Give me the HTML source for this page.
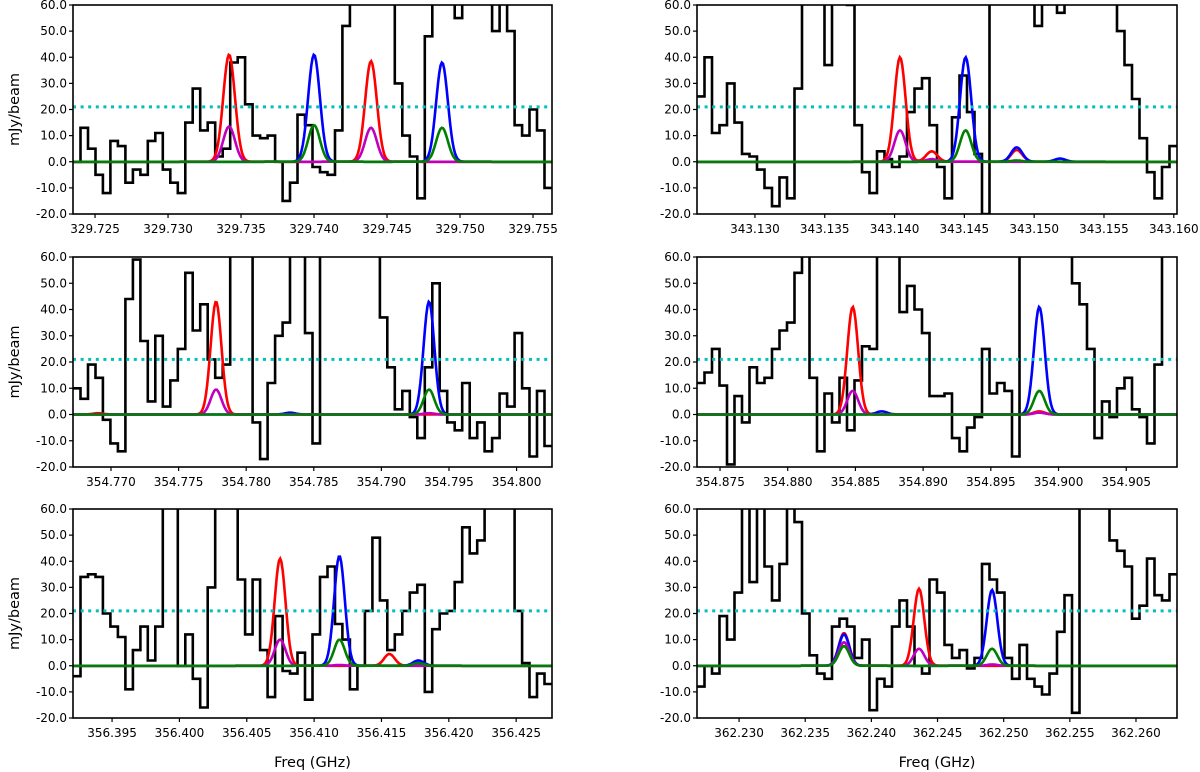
<!DOCTYPE html>
<html><head><meta charset="utf-8"><style>
html,body{margin:0;padding:0;background:#fff;}
svg{display:block;font-family:"DejaVu Sans","Liberation Sans",sans-serif;}
</style></head><body>
<svg id="fig" width="1200" height="772" viewBox="0 0 1200 772"></svg>
<script>
// ---- data ----
const panelNames = ['p1','p2','p3','p4','p5','p6'];
const freqMin = [329.72349, 343.12585, 354.76719, 354.87330, 356.39210, 362.22682];
const freqMax = [329.75630, 343.16023, 354.80262, 354.90875, 356.42766, 362.26310];
const xTicks = [
 [329.725,329.730,329.735,329.740,329.745,329.750,329.755],
 [343.130,343.135,343.140,343.145,343.150,343.155,343.160],
 [354.770,354.775,354.780,354.785,354.790,354.795,354.800],
 [354.875,354.880,354.885,354.890,354.895,354.900,354.905],
 [356.395,356.400,356.405,356.410,356.415,356.420,356.425],
 [362.230,362.235,362.240,362.245,362.250,362.255,362.260]
];
const yTicks = [-20,-10,0,10,20,30,40,50,60];
const threshold = 21;
const sigmaGHz = 0.0004;
const flux1 = [0,13,5,-5,-12,8,6,-8,-3,-5,8,11,-3,-8,-12,15,28,12,15,2,5,38,40,22,10,9,10,0,-15,-8,18,14,-2,-4,-5,12,52,70,70,70,70,70,70,30,10,2,-14,48,70,70,70,55,70,70,70,70,50,70,50,14,10,20,12,-10];
const flux2 = [25,40,11,14,30,15,3,2,-3,-10,-17,-6,-14,28,70,70,70,37,70,70,60,14,-4,-12,4,1,-2,2,19,28,32,14,-2,-14,17,33,19,3,-20,70,70,70,70,70,70,52,70,70,57,70,70,70,70,70,70,70,50,37,24,9,-4,-14,-2,6];
const flux3 = [10,6,19,14,-2,-11,-14,44,59,28,5,30,3,13,25,54,32,42,21,14,19,70,70,70,-3,-17,12,30,35,70,70,31,-11,70,70,70,70,70,70,70,70,37,18,2,9,-1,-9,18,50,9,-3,-6,12,-9,-3,-14,-9,8,3,31,10,-16,9,-12];
const flux4 = [12,16,25,11,-19,7,-3,18,12,14,25,32,35,54,70,14,-14,8,-3,14,-6,13,26,25,70,70,70,39,49,40,31,7,7,8,-9,-14,-5,-1,25,8,12,9,-16,70,70,70,70,70,70,70,50,42,25,-9,5,-1,10,14,2,-1,-11,19,70,70];
const flux5 = [-4,34,35,34,20,15,11,-9,6,15,2,15,70,70,0,12,-5,-16,30,70,70,70,33,12,33,6,-12,19,-2,-3,5,-13,12,34,38,16,10,-9,0,21,49,25,6,12,21,28,31,-10,14,20,21,32,53,43,48,70,70,70,70,21,1,-12,-3,-7];
const flux6 = [-8,0,-3,19,10,28,70,32,70,38,25,39,70,55,20,4,-3,-5,15,18,15,3,10,-17,-5,-8,15,25,15,0,-3,33,28,8,3,6,-1,3,39,33,28,3,-5,8,-5,-8,-11,-3,13,27,-18,70,70,70,70,48,44,38,18,23,41,27,25,35];
const fluxes = [flux1,flux2,flux3,flux4,flux5,flux6];
// line components: [panel, freq, amp] for each colour
const redLines = [[0,329.73418,41],[0,329.74390,38.5],[1,343.14039,40],[1,343.14266,4],[1,343.14875,4.5],[2,354.77777,43],[2,354.76904,0.5],[3,354.88480,41],[3,354.89858,1.2],[4,356.40747,41],[4,356.41559,4.5],[5,362.23793,12.5],[5,362.24360,29.5]];
const blueLines = [[0,329.74000,41],[0,329.74877,38],[1,343.14509,40],[1,343.14875,5.5],[1,343.15185,1.2],[2,354.78324,0.7],[2,354.79352,43],[3,354.88694,1.2],[3,354.89858,41],[4,356.41188,42],[4,356.41774,2],[5,362.23793,12],[5,362.24912,29]];
const magentaLines = [[0,329.73418,13.5],[0,329.74390,13],[1,343.14039,12],[1,343.14266,1],[2,354.77777,9.5],[2,354.79352,0.5],[3,354.88480,9],[3,354.89858,0.7],[4,356.40747,10],[4,356.41188,0.3],[5,362.23793,9],[5,362.24360,6.5],[5,362.24912,0.5]];
const greenLines = [[0,329.74000,14],[0,329.74877,13],[1,343.14509,12],[1,343.14875,0.5],[2,354.79352,9.5],[3,354.89858,9],[4,356.41188,10],[4,356.41774,1],[5,362.23793,7.5],[5,362.24912,6.5]];
</script>
<script>
const NS='http://www.w3.org/2000/svg';
const svg=document.getElementById('fig');
const colX=[[73,552],[697,1177]];
const rowY=[[5,214],[257,467],[509,718]];
function mk(tag,attrs,parent){const e=document.createElementNS(NS,tag);for(const k in attrs)e.setAttribute(k,attrs[k]);(parent||svg).appendChild(e);return e;}
const defs=mk('defs',{});
for(let p=0;p<6;p++){
  const col=p%2,row=Math.floor(p/2);
  const [x0,x1]=colX[col],[y0,y1]=rowY[row];
  const fmin=freqMin[p],fmax=freqMax[p];
  const X=f=>x0+(f-fmin)/(fmax-fmin)*(x1-x0);
  const Y=v=>y1-(v+20)/80*(y1-y0);
  const cp=mk('clipPath',{id:'clip'+p},defs);
  mk('rect',{x:x0,y:y0,width:x1-x0,height:y1-y0},cp);
  const g=mk('g',{});
  
  
  const pg=mk('g',{'clip-path':'url(#clip'+p+')'},g);
  const fl=fluxes[p],n=fl.length,dw=(fmax-fmin)/n;
  let d='';
  for(let i=0;i<n;i++){
    const fa=fmin+i*dw,fb=fa+dw,yv=Y(Math.min(Math.max(fl[i],-30),75));
    d+=(i===0?'M':'L')+X(fa).toFixed(1)+','+yv.toFixed(1)+'L'+X(fb).toFixed(1)+','+yv.toFixed(1);
  }
  const hist=mk('path',{d:d,fill:'none',stroke:'#000','stroke-width':2.6,'stroke-linejoin':'miter'},pg);
  
  
  const sets=[[redLines,'#ff0000','red-model'],[blueLines,'#0000ff','blue-model'],[magentaLines,'#bf00bf','magenta-model'],[greenLines,'#007f00','green-model']];
  for(const [lines,colr,nm] of sets){
    const comps=lines.filter(l=>l[0]===p);
    let dd='';
    for(let k=0;k<=400;k++){
      const f=fmin+(fmax-fmin)*k/400;
      let v=0;for(const c of comps)v+=c[2]*Math.exp(-0.5*Math.pow((f-c[1])/sigmaGHz,2));
      dd+=(k?'L':'M')+X(f).toFixed(1)+','+Y(v).toFixed(1);
    }
    const path=mk('path',{d:dd,fill:'none',stroke:colr,'stroke-width':2.6},pg);
    
    
  }
  const th=mk('line',{x1:x0,x2:x1,y1:Y(threshold),y2:Y(threshold),stroke:'#00bfbf','stroke-width':3,'stroke-dasharray':'3 4.6'},pg);
  
  
  const fr=mk('rect',{x:x0,y:y0,width:x1-x0,height:y1-y0,fill:'none',stroke:'#000','stroke-width':1.6},g);
  
  
  for(const t of yTicks){
    const yy=Y(t);
    mk('line',{x1:x0-4,x2:x0,y1:yy,y2:yy,stroke:'#000','stroke-width':1.2},g);
    const tx=mk('text',{x:x0-6,y:yy+4,'text-anchor':'end','font-size':12,fill:'#000'},g);
    tx.textContent=t.toFixed(1);
    
    
  }
  for(const t of xTicks[p]){
    const xx=X(t);
    mk('line',{x1:xx,x2:xx,y1:y1,y2:y1+4,stroke:'#000','stroke-width':1.2},g);
    const tx=mk('text',{x:xx,y:y1+19,'text-anchor':'middle','font-size':12,fill:'#000'},g);
    tx.textContent=t.toFixed(3);
    
    
  }
  if(col===0){
    const yl=mk('text',{x:0,y:0,'text-anchor':'middle','font-size':14.5,fill:'#000',transform:'translate(19,'+((y0+y1)/2)+') rotate(-90)'},g);
    yl.textContent='mJy/beam';
    
    
  }
  if(row===2){
    const xl=mk('text',{x:(x0+x1)/2,y:767,'text-anchor':'middle','font-size':14.5,fill:'#000'},g);
    xl.textContent='Freq (GHz)';
    
    
  }
}
</script>
</body></html>
